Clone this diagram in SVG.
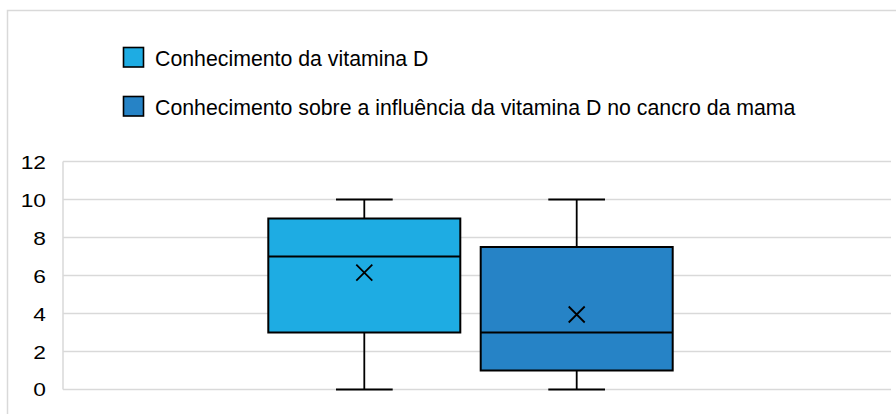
<svg xmlns="http://www.w3.org/2000/svg" width="896" height="414" viewBox="0 0 896 414">
<style>
.frame{stroke:#d9d9d9;stroke-width:1.5;fill:none}
.grid{stroke:#d9d9d9;stroke-width:1.5;fill:none}
.ax{font-family:"Liberation Sans",Arial,sans-serif;font-size:17.5px;fill:#000;text-anchor:end}
.lg{font-family:"Liberation Sans",Arial,sans-serif;font-size:21.3px;fill:#000}
.box{stroke:#000;stroke-width:2}
.wh{stroke:#000;stroke-width:1.8;fill:none}
.b1{fill:#1EACE3}
.b2{fill:#2683C6}
</style>
<rect width="896" height="414" fill="#fff"/>
<path class="frame" d="M7.5 414 V10.5 H896"/>
<g id="legend">
<g id="legend-1">
<rect class="b1" x="123.5" y="47.5" width="20" height="19.5" stroke="#000" stroke-width="1.6"/>
<text class="lg" x="155" y="65.5">Conhecimento da vitamina D</text>
</g>
<g id="legend-2">
<rect class="b2" x="123.5" y="96.5" width="20" height="19.5" stroke="#000" stroke-width="1.6"/>
<text class="lg" x="155" y="114.5">Conhecimento sobre a influência da vitamina D no cancro da mama</text>
</g>
</g>
<g id="axis">
<path class="grid" d="M63 161.5 H891 M63 199.5 H891 M63 237.5 H891 M63 275.5 H891 M63 313.5 H891 M63 351.5 H891 M63 389.5 H891 M63 161.5 V389.5"/>
<g transform="translate(46 0) scale(1.3 1)">
<text class="ax" x="0" y="169">12</text>
<text class="ax" x="0" y="207">10</text>
<text class="ax" x="0" y="245.5">8</text>
<text class="ax" x="0" y="283.5">6</text>
<text class="ax" x="0" y="321.5">4</text>
<text class="ax" x="0" y="359.5">2</text>
<text class="ax" x="0" y="396.5">0</text>
</g>
</g>
<g id="connectors">
<path class="wh" d="M364.3 199.5 V218.5 M364.3 332.5 V389.5 M336 199.5 H392.7 M336 389.5 H392.7"/>
<path class="wh" d="M576.7 199.5 V247 M576.7 370.5 V389.5 M548.3 199.5 H605 M548.3 389.5 H605"/>
</g>
<g id="box-1">
<rect class="box b1" x="268.3" y="218.5" width="192" height="114"/>
<line class="box" x1="268.3" y1="256.5" x2="460.3" y2="256.5"/>
<path class="wh" d="M356.3 264.7 L372.3 280.7 M372.3 264.7 L356.3 280.7"/>
</g>
<g id="box-2">
<rect class="box b2" x="480.7" y="247" width="192" height="123.5"/>
<line class="box" x1="480.7" y1="332.5" x2="672.7" y2="332.5"/>
<path class="wh" d="M568.7 306.5 L584.7 322.5 M584.7 306.5 L568.7 322.5"/>
</g>
</svg>
